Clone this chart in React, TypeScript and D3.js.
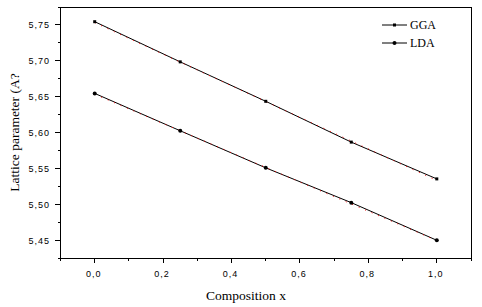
import React from "react";
import * as d3 from "d3";

const compositions = [0, 0.25, 0.5, 0.75, 1.0];
const ggaValues = [5.7545, 5.6985, 5.6435, 5.5866, 5.5353];
const ldaValues = [5.6545, 5.6024, 5.5507, 5.5022, 5.4497];
const xTicksMajor = [0, 0.2, 0.4, 0.6, 0.8, 1.0];
const xTicksMinor = [-0.1, 0.1, 0.3, 0.5, 0.7, 0.9, 1.1];
const yTicksMajor = [5.45, 5.5, 5.55, 5.6, 5.65, 5.7, 5.75];
const yTicksMinor = [5.425, 5.475, 5.525, 5.575, 5.625, 5.675, 5.725, 5.775];

const W = 482, H = 307;
const left = 60.5, right = 471, top = 7, bottom = 258;

function fit(xs: number[], ys: number[]) {
  const mx = d3.mean(xs)!, my = d3.mean(ys)!;
  let num = 0, den = 0;
  xs.forEach((x, i) => { num += (x - mx) * (ys[i] - my); den += (x - mx) ** 2; });
  const b = num / den;
  return { a: my - b * mx, b };
}

export default function App() {
  const x = d3.scaleLinear().domain([-0.1, 1.1]).range([left, right]);
  const y = d3.scaleLinear().domain([5.425, 5.775]).range([bottom, top]);
  const fmt = (v: number, d: number) => v.toFixed(d).replace(".", ",");
  const line = d3.line<number>().x((_, i) => x(compositions[i])).y((v) => y(v));
  const fits = [ggaValues, ldaValues].map((vals) => fit(compositions, vals));
  const sans = "Liberation Sans, Arial, sans-serif";
  const serif = "Liberation Serif, Times New Roman, serif";
  return (
    <svg width={W} height={H} style={{ position: "absolute", left: 0, top: 0 }}>
      <rect x={0} y={0} width={W} height={H} fill="#fff" />
      <rect x={left} y={top} width={right - left} height={bottom - top} fill="none" stroke="#000" strokeWidth={1} shapeRendering="crispEdges" />
      {xTicksMajor.map((t) => (
        <g key={"xM" + t}>
          <line x1={x(t)} x2={x(t)} y1={bottom} y2={bottom + 5} stroke="#000" shapeRendering="crispEdges" />
          <text x={x(t) - 1} y={277} fontFamily={sans} fontSize={9} textAnchor="middle" letterSpacing={1}>{fmt(t, 1)}</text>
        </g>
      ))}
      {xTicksMinor.map((t) => (
        <line key={"xm" + t} x1={x(t)} x2={x(t)} y1={bottom} y2={bottom + 3} stroke="#000" shapeRendering="crispEdges" />
      ))}
      {yTicksMajor.map((t) => (
        <g key={"yM" + t}>
          <line x1={left - 6} x2={left} y1={y(t)} y2={y(t)} stroke="#000" shapeRendering="crispEdges" />
          <text x={50} y={y(t) + 3.5} fontFamily={sans} fontSize={9} textAnchor="end" letterSpacing={1}>{fmt(t, 2)}</text>
        </g>
      ))}
      {yTicksMinor.map((t) => (
        <line key={"ym" + t} x1={left - 3} x2={left} y1={y(t)} y2={y(t)} stroke="#000" shapeRendering="crispEdges" />
      ))}
      <text x={246} y={300} fontFamily={serif} fontSize={13.5} textAnchor="middle">Composition x</text>
      <text transform={`translate(19,${(top + bottom) / 2}) rotate(-90)`} fontFamily={serif} fontSize={13.5} textAnchor="middle">Lattice parameter (A?</text>
      <path d={line(ggaValues)!} fill="none" stroke="#000" strokeWidth={1} />
      <path d={line(ldaValues)!} fill="none" stroke="#000" strokeWidth={1} />
      {fits.map((f, i) => (
        <line key={"fit" + i} x1={x(0)} y1={y(f.a) + 0.4} x2={x(1)} y2={y(f.a + f.b) + 0.4} stroke="#e00" strokeWidth={1} strokeDasharray="1,6" />
      ))}
      {ggaValues.map((v, i) => (
        <rect key={"g" + i} x={x(compositions[i]) - 1.5} y={y(v) - 1.5} width={3} height={3} fill="#000" />
      ))}
      {ldaValues.map((v, i) => (
        <circle key={"l" + i} cx={x(compositions[i])} cy={y(v)} r={2} fill="#000" />
      ))}
      <line x1={382} x2={407} y1={25} y2={25} stroke="#000" />
      <rect x={393} y={23.5} width={3} height={3} fill="#000" />
      <text x={410} y={29} fontFamily={serif} fontSize={12}>GGA</text>
      <line x1={382} x2={407} y1={43} y2={43} stroke="#000" />
      <circle cx={394.5} cy={43} r={2} fill="#000" />
      <text x={410} y={47} fontFamily={serif} fontSize={12}>LDA</text>
    </svg>
  );
}
